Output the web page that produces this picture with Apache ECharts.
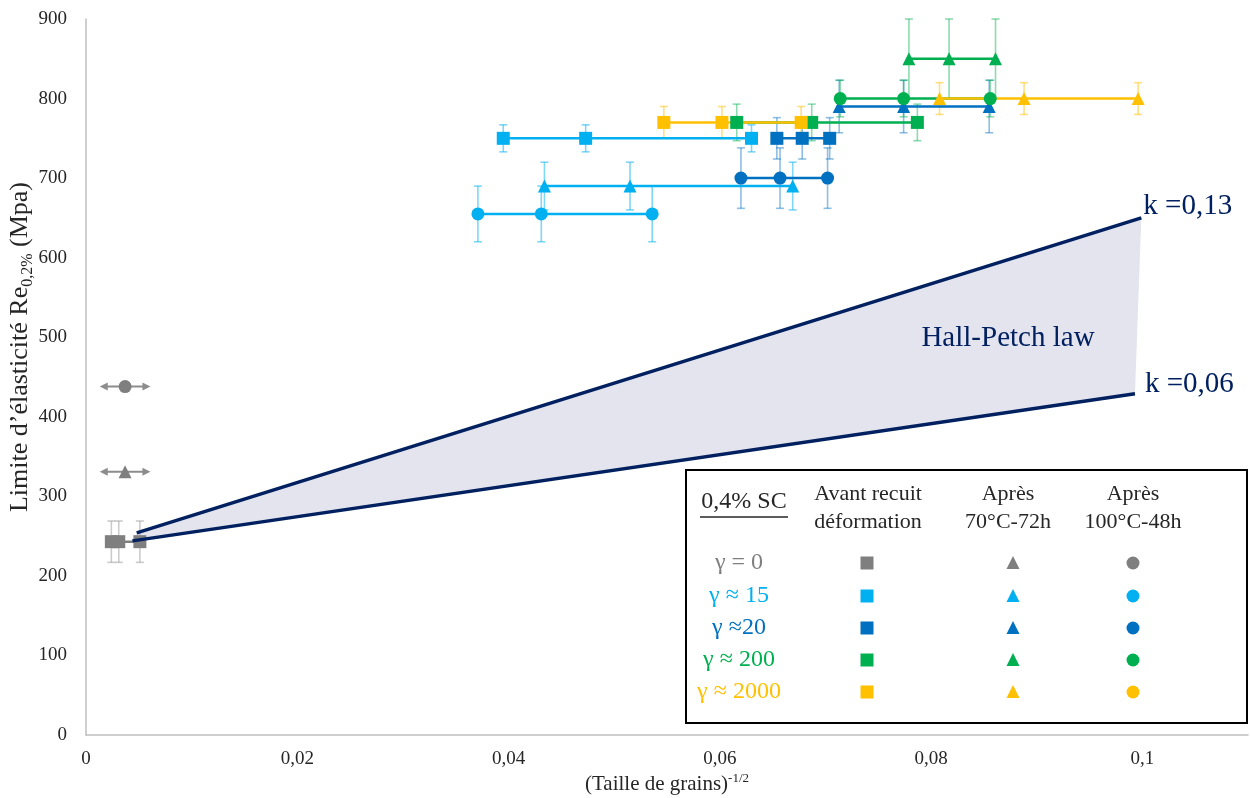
<!DOCTYPE html>
<html><head><meta charset="utf-8">
<script src="https://cdn.jsdelivr.net/npm/echarts@6/dist/echarts.min.js"></script>
<style>html,body{margin:0;padding:0;background:#fff}#c{width:1250px;height:798px}</style>
</head><body><div id="c"></div>
<script>
const FONT = '"Liberation Serif","Times New Roman",serif';
const TXT = '#262626';
const NAVY = '#002060';

// ---- tick labels / axes ----
const xTicks = [0, 0.02, 0.04, 0.06, 0.08, 0.1];
const yTicks = [0, 100, 200, 300, 400, 500, 600, 700, 800, 900];

// ---- colours of the groups (γ = 0, 15, 20, 200, 2000) ----
const groupColors = ['#7F7F7F', '#00B0F0', '#0070C0', '#00B050', '#FFC000'];
const groupErrColors = ['rgba(127,127,127,0.45)', 'rgba(0,176,240,0.5)', 'rgba(0,112,192,0.45)', 'rgba(0,176,80,0.45)', 'rgba(255,192,0,0.5)'];
const groupLabels = ['γ = 0', 'γ ≈ 15', 'γ ≈20', 'γ ≈ 200', 'γ ≈ 2000'];
const columnHeaders = [['Avant recuit', 'déformation'], ['Après', '70°C-72h'], ['Après', '100°C-48h']];

// ---- γ = 0 ----
const g0_sq_x = [0.0024, 0.0031, 0.0051];
const g0_sq_y = [243, 243, 243];
const g0_sq_err = [26, 26, 26];
const g0_tri_x = [0.0037];
const g0_tri_y = [331];
const g0_tri_xerr = [0.0024];
const g0_ci_x = [0.0037];
const g0_ci_y = [438];
const g0_ci_xerr = [0.0024];

// ---- γ ≈ 15 ----
const g15_sq_x = [0.0395, 0.0473, 0.0630];
const g15_sq_y = [750, 750, 750];
const g15_sq_err = [17, 17, 17];
const g15_tri_x = [0.0434, 0.0515, 0.0669];
const g15_tri_y = [690, 690, 690];
const g15_tri_err = [30, 30, 30];
const g15_ci_x = [0.0371, 0.0431, 0.0536];
const g15_ci_y = [655, 655, 655];
const g15_ci_err = [35, 35, 35];

// ---- γ ≈ 20 ----
const g20_sq_x = [0.0654, 0.0678, 0.0704];
const g20_sq_y = [750, 750, 750];
const g20_sq_err = [26, 26, 26];
const g20_tri_x = [0.0713, 0.0774, 0.0855];
const g20_tri_y = [790, 790, 790];
const g20_tri_err = [33, 33, 33];
const g20_ci_x = [0.0620, 0.0657, 0.0702];
const g20_ci_y = [700, 700, 700];
const g20_ci_err = [38, 38, 38];

// ---- γ ≈ 200 ----
const g200_sq_x = [0.0616, 0.0687, 0.0787];
const g200_sq_y = [770, 770, 770];
const g200_sq_err = [23, 23, 23];
const g200_tri_x = [0.0779, 0.0817, 0.0861];
const g200_tri_y = [850, 850, 850];
const g200_tri_err = [50, 50, 50];
const g200_ci_x = [0.0714, 0.0774, 0.0856];
const g200_ci_y = [800, 800, 800];
const g200_ci_err = [23, 23, 23];

// ---- γ ≈ 2000 ----
const g2000_sq_x = [0.0547, 0.0602, 0.0677];
const g2000_sq_y = [770, 770, 770];
const g2000_sq_err = [20, 20, 20];
const g2000_tri_x = [0.0808, 0.0888, 0.0996];
const g2000_tri_y = [800, 800, 800];
const g2000_tri_err = [20, 20, 20];

// ---- Hall-Petch band ----
const hpHigh = [[0.0048, 254], [0.0999, 650]];
const hpLow = [[0.0044, 244], [0.0993, 429]];
const hpLabels = ['k =0,13', 'k =0,06', 'Hall-Petch law'];

function lineSeries(xs, ys, color, symbol) {
  return {
    type: 'line', data: xs.map((x, i) => [x, ys[i]]), symbol: symbol, symbolSize: 13,
    showSymbol: true, itemStyle: { color: color, opacity: 1 }, lineStyle: { color: color, width: 2.5 },
    z: 5, animation: false, clip: false, silent: true
  };
}
function errSeries(xs, ys, errs, color) {
  return {
    type: 'custom', z: 3, animation: false, clip: false, silent: true,
    data: xs.map((x, i) => [x, ys[i] - errs[i], ys[i] + errs[i]]),
    encode: { x: 0, y: [1, 2] },
    renderItem: function (p, api) {
      const x = api.value(0);
      const lo = api.coord([x, api.value(1)]);
      const hi = api.coord([x, api.value(2)]);
      const hw = 4, st = { stroke: color, lineWidth: 1.6 };
      return { type: 'group', children: [
        { type: 'line', shape: { x1: lo[0], y1: lo[1], x2: hi[0], y2: hi[1] }, style: st },
        { type: 'line', shape: { x1: lo[0] - hw, y1: lo[1], x2: lo[0] + hw, y2: lo[1] }, style: st },
        { type: 'line', shape: { x1: hi[0] - hw, y1: hi[1], x2: hi[0] + hw, y2: hi[1] }, style: st }
      ] };
    }
  };
}
function xArrowSeries(xs, ys, xerrs, color) {
  return {
    type: 'custom', z: 3, animation: false, clip: false, silent: true,
    data: xs.map((x, i) => [x - xerrs[i], ys[i], x + xerrs[i]]),
    encode: { x: [0, 2], y: 1 },
    renderItem: function (p, api) {
      const y = api.value(1);
      const a = api.coord([api.value(0), y]);
      const b = api.coord([api.value(2), y]);
      const L = 8, H = 4;
      return { type: 'group', children: [
        { type: 'line', shape: { x1: a[0] + 4, y1: a[1], x2: b[0] - 4, y2: b[1] }, style: { stroke: color, lineWidth: 2 } },
        { type: 'polygon', shape: { points: [[a[0], a[1]], [a[0] + L, a[1] - H], [a[0] + L, a[1] + H]] }, style: { fill: color } },
        { type: 'polygon', shape: { points: [[b[0], b[1]], [b[0] - L, b[1] - H], [b[0] - L, b[1] + H]] }, style: { fill: color } }
      ] };
    }
  };
}

const series = [];
// Hall-Petch shaded band
series.push({
  type: 'custom', z: 1, animation: false, silent: true, clip: false,
  data: [[hpHigh[0][0], hpHigh[0][1]]],
  encode: { x: 0, y: 1 },
  renderItem: function (p, api) {
    const pts = hpHigh.concat(hpLow.slice().reverse()).map(q => api.coord(q));
    return { type: 'polygon', shape: { points: pts }, style: { fill: '#E3E4EE' } };
  }
});

// γ = 0
series.push(errSeries(g0_sq_x, g0_sq_y, g0_sq_err, 'rgba(160,160,160,0.55)'));
series.push(lineSeries(g0_sq_x, g0_sq_y, groupColors[0], 'rect'));
series.push(xArrowSeries(g0_tri_x, g0_tri_y, g0_tri_xerr, '#8C8C8C'));
series.push(lineSeries(g0_tri_x, g0_tri_y, groupColors[0], 'triangle'));
series.push(xArrowSeries(g0_ci_x, g0_ci_y, g0_ci_xerr, '#8C8C8C'));
series.push(lineSeries(g0_ci_x, g0_ci_y, groupColors[0], 'circle'));

const groups = [
  [g15_sq_x, g15_sq_y, g15_sq_err, 1, 'rect'], [g15_tri_x, g15_tri_y, g15_tri_err, 1, 'triangle'], [g15_ci_x, g15_ci_y, g15_ci_err, 1, 'circle'],
  [g20_sq_x, g20_sq_y, g20_sq_err, 2, 'rect'], [g20_tri_x, g20_tri_y, g20_tri_err, 2, 'triangle'], [g20_ci_x, g20_ci_y, g20_ci_err, 2, 'circle'],
  [g200_sq_x, g200_sq_y, g200_sq_err, 3, 'rect'], [g200_tri_x, g200_tri_y, g200_tri_err, 3, 'triangle'], [g200_ci_x, g200_ci_y, g200_ci_err, 3, 'circle'],
  [g2000_sq_x, g2000_sq_y, g2000_sq_err, 4, 'rect'], [g2000_tri_x, g2000_tri_y, g2000_tri_err, 4, 'triangle']
];
groups.forEach(g => series.push(errSeries(g[0], g[1], g[2], groupErrColors[g[3]])));
groups.forEach(g => series.push(lineSeries(g[0], g[1], groupColors[g[3]], g[4])));

// Hall-Petch lines
function hpLine(data, label, dist, off) {
  return {
    type: 'line', data: data, symbol: 'none', z: 8, animation: false, silent: true, clip: false,
    lineStyle: { color: NAVY, width: 3.5 },
    endLabel: { show: true, formatter: label, distance: dist, offset: off, fontFamily: FONT, fontSize: 29, color: NAVY }
  };
}
series.push(hpLine(hpHigh, hpLabels[0], 2, [0, -11]));
series.push(hpLine(hpLow, hpLabels[1], 10, [0, -9]));

// ---- legend table as graphics ----
const graphics = [];
const LX = 686, LY = 470, LW = 561, LH = 253;
graphics.push({ type: 'rect', shape: { x: LX, y: LY, width: LW, height: LH }, style: { fill: '#fff', stroke: '#000', lineWidth: 2 }, z: 100 });
graphics.push({ type: 'text', x: 744, y: 502, style: { text: '0,4% SC', font: '24px ' + FONT, fill: TXT, textAlign: 'center', textVerticalAlign: 'middle' }, z: 101 });
graphics.push({ type: 'line', shape: { x1: 700, y1: 517, x2: 788, y2: 517 }, style: { stroke: TXT, lineWidth: 1.3 }, z: 101 });
const colX = [868, 1008, 1133];
columnHeaders.forEach((h, i) => {
  graphics.push({ type: 'text', x: colX[i], y: 494, style: { text: h[0], font: '22px ' + FONT, fill: TXT, textAlign: 'center', textVerticalAlign: 'middle' }, z: 101 });
  graphics.push({ type: 'text', x: colX[i], y: 522, style: { text: h[1], font: '22px ' + FONT, fill: TXT, textAlign: 'center', textVerticalAlign: 'middle' }, z: 101 });
});
const rowY = [563, 596, 628, 660, 692];
groupLabels.forEach((t, i) => {
  const c = groupColors[i];
  graphics.push({ type: 'text', x: 739, y: rowY[i], style: { text: t, font: '24px ' + FONT, fill: c, textAlign: 'center', textVerticalAlign: 'middle' }, z: 101 });
  graphics.push({ type: 'rect', shape: { x: 867 - 6.5, y: rowY[i] - 6.5, width: 13, height: 13 }, style: { fill: c }, z: 101 });
  graphics.push({ type: 'polygon', shape: { points: [[1013, rowY[i] - 7], [1019.5, rowY[i] + 6], [1006.5, rowY[i] + 6]] }, style: { fill: c }, z: 101 });
  graphics.push({ type: 'circle', shape: { cx: 1133, cy: rowY[i], r: 6.5 }, style: { fill: c }, z: 101 });
});
graphics.push({ type: 'text', x: 1008, y: 338, style: { text: hpLabels[2], font: '29px ' + FONT, fill: NAVY, textAlign: 'center', textVerticalAlign: 'middle' }, z: 50 });

const chart = echarts.init(document.getElementById('c'), null, { renderer: 'canvas' });
chart.setOption({
  animation: false,
  backgroundColor: '#fff',
  grid: { left: 86, right: 2, top: 19, bottom: 63, containLabel: false, outerBoundsMode: 'none' },
  xAxis: {
    type: 'value', min: 0, max: 0.11, interval: 0.02,
    axisLine: { show: true, lineStyle: { color: '#BFBFBF', width: 1.5 } },
    axisTick: { show: false }, splitLine: { show: false },
    axisLabel: {
      margin: 15, fontFamily: FONT, fontSize: 19, color: TXT,
      formatter: v => { const t = xTicks.find(k => Math.abs(k - v) < 1e-9); return t === undefined ? '' : String(t).replace('.', ','); }
    },
    nameMoveOverlap: false,
    name: '{a|(Taille de grains)}{p|-1/2}', nameLocation: 'middle', nameGap: 37,
    nameTextStyle: { rich: {
      a: { fontFamily: FONT, fontSize: 21, color: TXT, lineHeight: 24 },
      p: { fontFamily: FONT, fontSize: 13, color: TXT, verticalAlign: 'top' }
    } }
  },
  yAxis: {
    type: 'value', min: 0, max: 900, interval: 100,
    axisLine: { show: true, lineStyle: { color: '#BFBFBF', width: 1.5 } },
    axisTick: { show: false }, splitLine: { show: false },
    axisLabel: { margin: 19, fontFamily: FONT, fontSize: 19, color: TXT,
      formatter: v => (yTicks.indexOf(v) >= 0 ? String(v) : '') },
    nameMoveOverlap: false,
    name: '{a|Limite d\u2019élasticité Re}{s|0,2%}{a| (Mpa)}', nameLocation: 'middle', nameGap: 50, nameRotate: 90,
    nameTextStyle: { padding: [0, 0, 0, 60], rich: {
      a: { fontFamily: FONT, fontSize: 26, color: TXT, lineHeight: 32 },
      s: { fontFamily: FONT, fontSize: 16, color: TXT, verticalAlign: 'bottom' }
    } }
  },
  series: series,
  graphic: graphics
});
</script>
</body></html>
